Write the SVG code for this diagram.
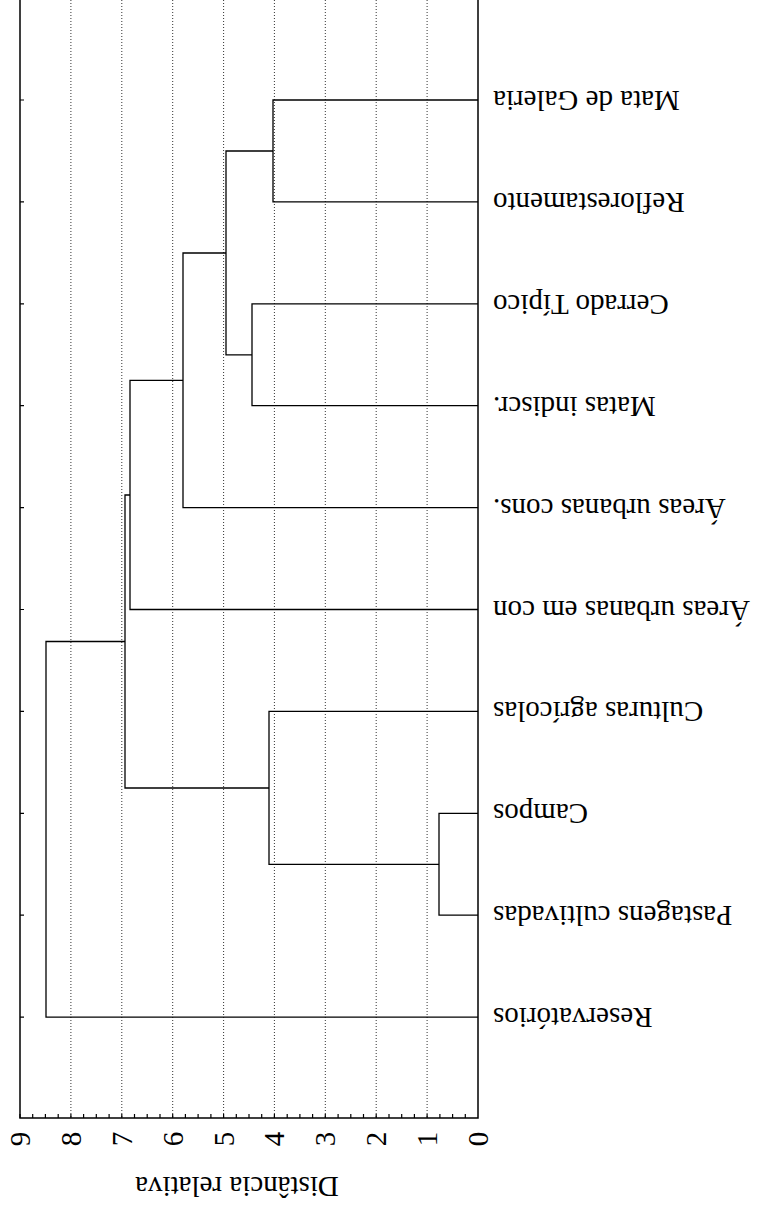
<svg xmlns="http://www.w3.org/2000/svg" width="759" height="1211" viewBox="0 0 759 1211">
  <style>
    .lbl { font-family: 'Liberation Serif', 'DejaVu Serif', serif; font-size: 29px; fill: #000; }
    .grid { stroke: #333; stroke-width: 1; stroke-dasharray: 1 2; fill: none; }
    .axis { stroke: #000; stroke-width: 1.5; fill: none; }
    .tick { stroke: #000; stroke-width: 1.2; fill: none; }
    .link { stroke: #000; stroke-width: 1.3; fill: none; }
  </style>
  <rect width="759" height="1211" fill="#fff"/>

  <!-- dotted gridlines at 1..8 -->
  <g id="grid">
    <line class="grid" x1="70.9" y1="0" x2="70.9" y2="1118"/>
    <line class="grid" x1="121.8" y1="0" x2="121.8" y2="1118"/>
    <line class="grid" x1="172.7" y1="0" x2="172.7" y2="1118"/>
    <line class="grid" x1="223.6" y1="0" x2="223.6" y2="1118"/>
    <line class="grid" x1="274.4" y1="0" x2="274.4" y2="1118"/>
    <line class="grid" x1="325.3" y1="0" x2="325.3" y2="1118"/>
    <line class="grid" x1="376.2" y1="0" x2="376.2" y2="1118"/>
    <line class="grid" x1="427.1" y1="0" x2="427.1" y2="1118"/>
  </g>

  <!-- frame and ticks -->
  <g id="axes">
    <path class="axis" d="M20,0 V1118 H478 V0"/>
    <path class="tick" d="M20,1118 v-4 M32.7,1118 v-4 M45.4,1118 v-4 M58.2,1118 v-4 M70.9,1118 v-4 M83.6,1118 v-4 M96.3,1118 v-4 M109.1,1118 v-4 M121.8,1118 v-4 M134.5,1118 v-4 M147.2,1118 v-4 M160,1118 v-4 M172.7,1118 v-4 M185.4,1118 v-4 M198.1,1118 v-4 M210.9,1118 v-4 M223.6,1118 v-4 M236.3,1118 v-4 M249,1118 v-4 M261.7,1118 v-4 M274.4,1118 v-4 M287.2,1118 v-4 M299.9,1118 v-4 M312.6,1118 v-4 M325.3,1118 v-4 M338.1,1118 v-4 M350.8,1118 v-4 M363.5,1118 v-4 M376.2,1118 v-4 M389,1118 v-4 M401.7,1118 v-4 M414.4,1118 v-4 M427.1,1118 v-4 M439.9,1118 v-4 M452.6,1118 v-4 M465.3,1118 v-4"/>
    <path class="tick" d="M20,100 h4 M20,201.9 h4 M20,303.8 h4 M20,405.7 h4 M20,507.6 h4 M20,609.5 h4 M20,711.4 h4 M20,813.3 h4 M20,915.2 h4 M20,1017.1 h4"/>
  </g>

  <!-- scale numbers -->
  <g id="scale">
    <text class="lbl" text-anchor="middle" transform="translate(488,1139) rotate(-90)">0</text>
    <text class="lbl" text-anchor="middle" transform="translate(437.1,1139) rotate(-90)">1</text>
    <text class="lbl" text-anchor="middle" transform="translate(386.2,1139) rotate(-90)">2</text>
    <text class="lbl" text-anchor="middle" transform="translate(335.3,1139) rotate(-90)">3</text>
    <text class="lbl" text-anchor="middle" transform="translate(284.4,1139) rotate(-90)">4</text>
    <text class="lbl" text-anchor="middle" transform="translate(233.6,1139) rotate(-90)">5</text>
    <text class="lbl" text-anchor="middle" transform="translate(182.7,1139) rotate(-90)">6</text>
    <text class="lbl" text-anchor="middle" transform="translate(131.8,1139) rotate(-90)">7</text>
    <text class="lbl" text-anchor="middle" transform="translate(80.9,1139) rotate(-90)">8</text>
    <text class="lbl" text-anchor="middle" transform="translate(30,1139) rotate(-90)">9</text>
  </g>
  <text id="axis-title" class="lbl" text-anchor="middle" transform="translate(237,1177) rotate(180)">Distância relativa</text>

  <!-- leaf labels -->
  <g id="leaf-mata-galeria"><text class="lbl" text-anchor="end" transform="translate(493,91) rotate(180)">Mata de Galeria</text></g>
  <g id="leaf-reflorestamento"><text class="lbl" text-anchor="end" transform="translate(493,192.9) rotate(180)">Reflorestamento</text></g>
  <g id="leaf-cerrado"><text class="lbl" text-anchor="end" transform="translate(493,294.8) rotate(180)">Cerrado Típico</text></g>
  <g id="leaf-matas"><text class="lbl" text-anchor="end" transform="translate(493,396.7) rotate(180)">Matas indiscr.</text></g>
  <g id="leaf-urb-cons"><text class="lbl" text-anchor="end" transform="translate(493,498.6) rotate(180)">Áreas urbanas cons.</text></g>
  <g id="leaf-urb-con"><text class="lbl" text-anchor="end" transform="translate(493,600.5) rotate(180)">Áreas urbanas em con</text></g>
  <g id="leaf-culturas"><text class="lbl" text-anchor="end" transform="translate(493,702.4) rotate(180)">Culturas agrícolas</text></g>
  <g id="leaf-campos"><text class="lbl" text-anchor="end" transform="translate(493,804.3) rotate(180)">Campos</text></g>
  <g id="leaf-pastagens"><text class="lbl" text-anchor="end" transform="translate(493,906.2) rotate(180)">Pastagens cultivadas</text></g>
  <g id="leaf-reservatorios"><text class="lbl" text-anchor="end" transform="translate(493,1008.1) rotate(180)">Reservatórios</text></g>

  <!-- dendrogram links -->
  <g id="links">
    <path class="link" d="M478,100 H273 V201.9 H478"/>
    <path class="link" d="M478,303.8 H252 V405.7 H478"/>
    <path class="link" d="M273,151 H226 V354.8 H252"/>
    <path class="link" d="M226,253 H183 V507.6 H478"/>
    <path class="link" d="M183,380.3 H130 V609.5 H478"/>
    <path class="link" d="M130,495 H125 V788 H269"/>
    <path class="link" d="M478,813.3 H439 V915.2 H478"/>
    <path class="link" d="M439,864.3 H269 V711.4 H478"/>
    <path class="link" d="M125,641.5 H46 V1017.1 H478"/>
  </g>
</svg>
